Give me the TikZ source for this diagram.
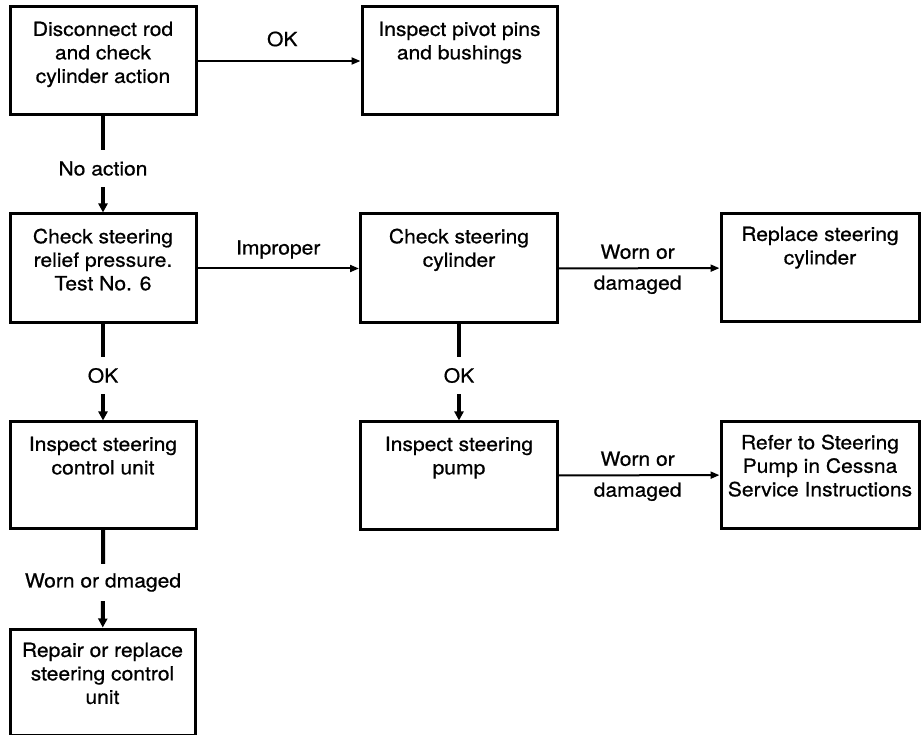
\documentclass[tikz,border=0pt]{standalone}
\usepackage{fontspec}
\setmainfont{TeX Gyre Heros}[FakeStretch=1.08,FakeBold=0.7]
\usetikzlibrary{arrows.meta}
\tikzset{
  box/.style={draw, line width=3pt, rectangle, inner sep=0pt},
  txt/.style={anchor=north, align=center, inner sep=0pt, font=\fontsize{19.5pt}{23.5pt}\selectfont},
  hlab/.style={align=center, inner sep=0pt, font=\fontsize{19.5pt}{23.5pt}\selectfont},
  hlab2/.style={align=center, inner sep=0pt, font=\fontsize{19.5pt}{31pt}\selectfont},
  vlab/.style={align=center, inner sep=0pt, minimum height=37pt, font=\fontsize{19.5pt}{23.5pt}\selectfont},
  harrow/.style={line width=2pt, -{Triangle[length=9pt,width=7pt]}},
  varrow/.style={line width=4pt, -{Triangle[length=9pt,width=9pt]}},
}
\begin{document}
\begin{tikzpicture}[x=1pt,y=-1pt]
\useasboundingbox (0,0) rectangle (922,735);
% boxes
\node[box, minimum width=186pt, minimum height=108pt] (b1) at (103,61) {};
\node[box, minimum width=195pt, minimum height=108pt] (b2) at (459.5,61) {};
\node[box, minimum width=186pt, minimum height=109pt] (b3) at (103,268.5) {};
\node[box, minimum width=197pt, minimum height=109pt] (b4) at (459,268.5) {};
\node[box, minimum width=198pt, minimum height=108pt] (b5) at (820,268) {};
\node[box, minimum width=186pt, minimum height=106pt] (b6) at (103,475) {};
\node[box, minimum width=197pt, minimum height=107pt] (b7) at (459,475.5) {};
\node[box, minimum width=198pt, minimum height=106pt] (b8) at (820,475) {};
\node[box, minimum width=185pt, minimum height=106pt] (b9) at (102.5,682) {};
% texts
\node[txt] (t1) at ([yshift=-16pt]b1.north) {Disconnect rod\\and check\\cylinder action};
\node[txt] (t2) at ([yshift=-16pt]b2.north) {Inspect pivot pins\\and bushings};
\node[txt] (t3) at ([yshift=-16pt]b3.north) {Check steering\\relief pressure.\\Test No. 6};
\node[txt] (t4) at ([yshift=-16pt]b4.north) {Check steering\\cylinder};
\node[txt] (t5) at ([yshift=-14pt]b5.north) {Replace steering\\cylinder};
\node[txt] (t6) at ([yshift=-16pt]b6.north) {Inspect steering\\control unit};
\node[txt] (t7) at ([yshift=-16pt]b7.north) {Inspect steering\\pump};
\node[txt] (t8) at ([yshift=-14pt]b8.north) {Refer to Steering\\Pump in Cessna\\Service Instructions};
\node[txt] (t9) at ([yshift=-15pt]b9.north) {Repair or replace\\steering control\\unit};
% horizontal connectors
\draw[harrow] (b1) -- (b2) node[hlab, pos=0.52, yshift=22pt] (l1) {OK};
\draw[harrow] (b3) -- (b4) node[hlab, pos=0.5, yshift=19pt] (l2) {Improper};
\draw[harrow] (b4) -- (b5) node[hlab2, pos=0.49, yshift=-1pt] (l3) {Worn or\\damaged};
\draw[harrow] (b7) -- (b8) node[hlab2, pos=0.49, yshift=-1pt] (l4) {Worn or\\damaged};
% vertical connectors with labels
\node[vlab] (v1) at (103,168.5) {No action};
\node[vlab] (v2) at (103,375.5) {OK};
\node[vlab] (v3) at (459,375.5) {OK};
\node[vlab] (v4) at (103,582.5) {Worn or dmaged};
\draw[varrow] (b1) -- (v1) -- (b3);
\draw[varrow] (b3) -- (v2) -- (b6);
\draw[varrow] (b4) -- (v3) -- (b7);
\draw[varrow] (b6) -- (v4) -- (b9);
\end{tikzpicture}
\end{document}
